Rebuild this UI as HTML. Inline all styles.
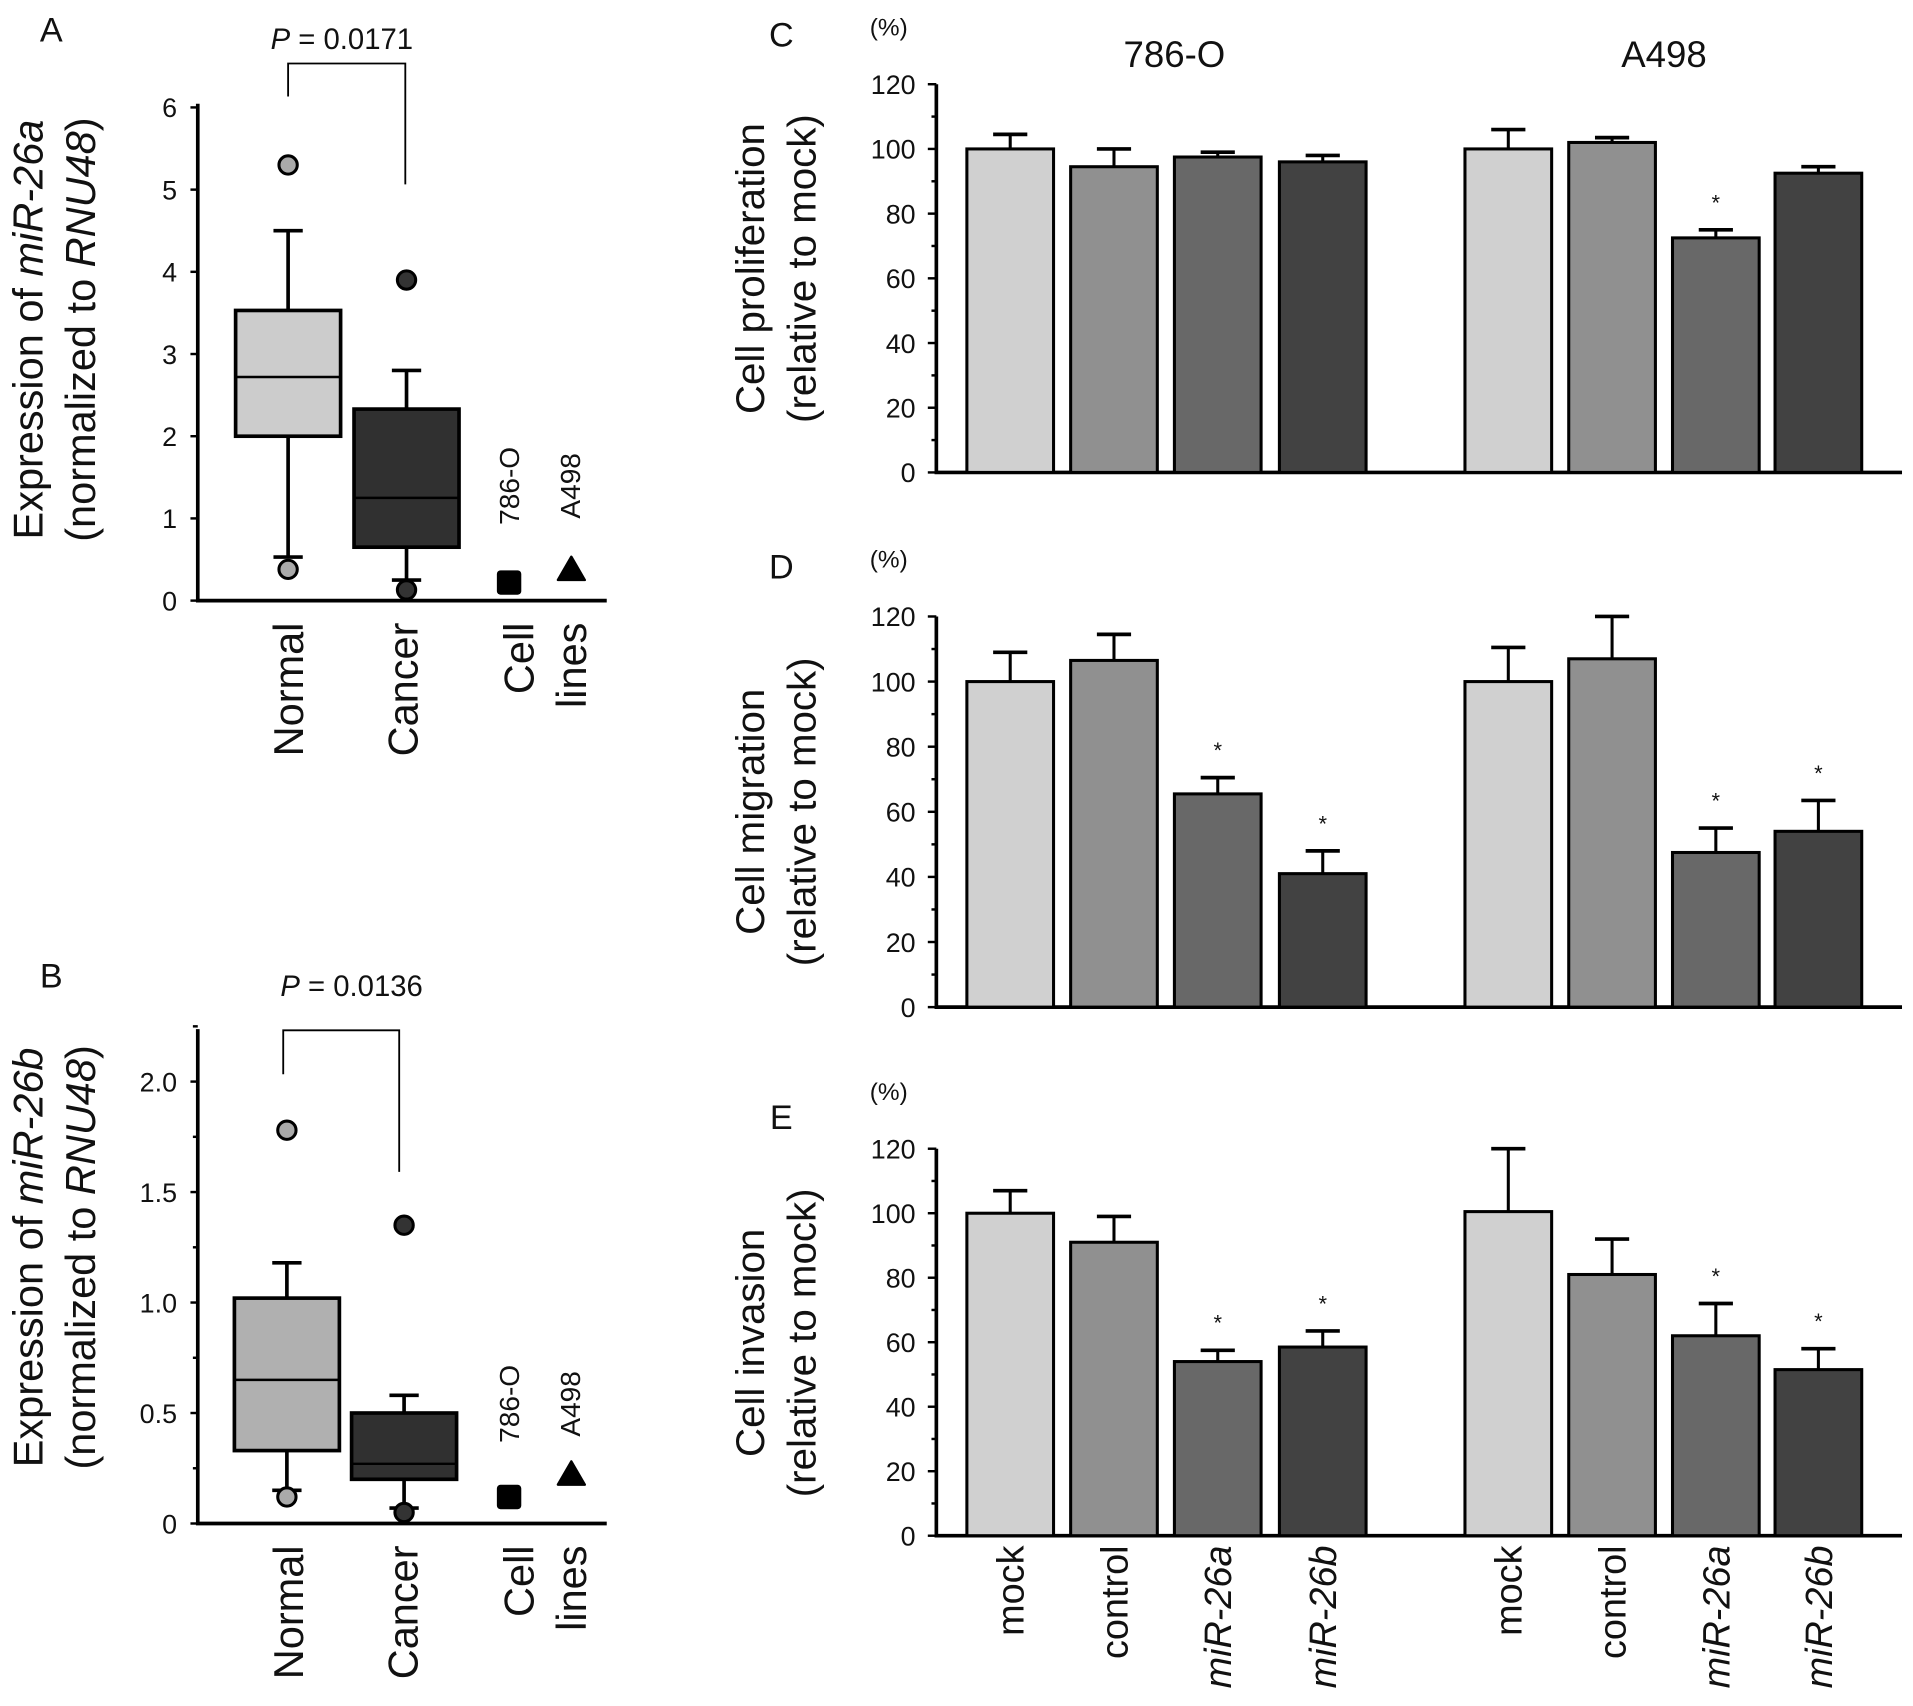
<!DOCTYPE html>
<html><head><meta charset="utf-8"><style>
html,body{margin:0;padding:0;background:#fff}
svg{display:block}
text{font-family:"Liberation Sans",Arial,sans-serif;fill:#111}
</style></head><body>
<svg id="fig" width="1913" height="1706" viewBox="0 0 1567 1397.5" preserveAspectRatio="none" xmlns="http://www.w3.org/2000/svg"></svg>
<script>
// ---- Box plot data ----
const boxCats = ["Normal","Cancer"];
const aNormal = [0.53, 2.0, 2.72, 3.53, 4.5];   // whiskerLo, Q1, median, Q3, whiskerHi
const aCancer = [0.25, 0.65, 1.25, 2.33, 2.8];
const aOutNormal = [5.3, 0.38];
const aOutCancer = [3.9, 0.13];
const aCell = [0.22, 0.37];
const aTicks = ["0","1","2","3","4","5","6"];
const bNormal = [0.15, 0.33, 0.65, 1.02, 1.18];
const bCancer = [0.07, 0.2, 0.27, 0.5, 0.58];
const bOutNormal = [1.78, 0.12];
const bOutCancer = [1.35, 0.05];
const bCell = [0.12, 0.22];
const bTicks = ["0","0.5","1.0","1.5","2.0"];
// ---- Bar chart data ----
const barCats = ["mock","control","miR-26a","miR-26b"];
const cellLines = ["786-O","A498"];
const cVals = [100,94.5,97.5,96, 100,102,72.5,92.5];
const cErr  = [104.5,100,99,98, 106,103.5,75,94.5];
const cSig  = [0,0,0,0, 0,0,1,0];
const dVals = [100,106.5,65.5,41, 100,107,47.5,54];
const dErr  = [109,114.5,70.5,48, 110.5,120,55,63.5];
const dSig  = [0,0,1,1, 0,0,1,1];
const eVals = [100,91,54,58.5, 100.5,81,62,51.5];
const eErr  = [107,99,57.5,63.5, 120,92,72,58];
const eSig  = [0,0,1,1, 0,0,1,1];
const barTicks = ["0","20","40","60","80","100","120"];

const svg=document.getElementById('fig');
const NS="http://www.w3.org/2000/svg";
function el(tag,attrs,parent){const e=document.createElementNS(NS,tag);for(const k in attrs)e.setAttribute(k,attrs[k]);(parent||svg).appendChild(e);return e;}
function txt(s,x,y,size,opts,parent){opts=opts||{};const t=el('text',{x:x,y:y,'font-size':size,'text-anchor':opts.anchor||'middle'},parent);if(opts.rot)t.setAttribute('transform','rotate('+opts.rot+' '+x+' '+y+')');if(opts.italic)t.setAttribute('font-style','italic');t.innerHTML=s;return t;}

function boxPanel(cfg){
  const g=el('g',{});
  
  
  const y=v=>cfg.y0-(v/cfg.max)*(cfg.y0-cfg.yTop);
  const ax=162;
  const axis=el('path',{d:`M${ax} ${cfg.axTop}V${cfg.y0}H497`,stroke:'#000','stroke-width':3,fill:'none'},g);
  
  
  cfg.ticks.forEach((t,i)=>{const v=i*cfg.step;el('line',{x1:ax-6,x2:ax,y1:y(v),y2:y(v),stroke:'#000','stroke-width':2},g);
    if(cfg.minor)el('line',{x1:ax-4,x2:ax,y1:y(v+cfg.step/2),y2:y(v+cfg.step/2),stroke:'#000','stroke-width':2},g);
    const tl=txt(t,ax-17,y(v)+8,22,{anchor:'end'},g);});
  const boxes=[[cfg.normal,cfg.nx,cfg.nFill,cfg.outN,'#aaaaaa'],[cfg.cancer,cfg.cx,'#303030',cfg.outC,'#333']];
  boxes.forEach((b,i)=>{const d=b[0],cx=b[1],hw=cfg.hw[i];
    el('line',{x1:cx,x2:cx,y1:y(d[0]),y2:y(d[4]),stroke:'#000','stroke-width':3},g);
    el('line',{x1:cx-12,x2:cx+12,y1:y(d[0]),y2:y(d[0]),stroke:'#000','stroke-width':3},g);
    el('line',{x1:cx-12,x2:cx+12,y1:y(d[4]),y2:y(d[4]),stroke:'#000','stroke-width':3},g);
    const r=el('rect',{x:cx-hw,y:y(d[3]),width:2*hw,height:y(d[1])-y(d[3]),fill:b[2],stroke:'#000','stroke-width':3},g);
    
    el('line',{x1:cx-hw,x2:cx+hw,y1:y(d[2]),y2:y(d[2]),stroke:'#000','stroke-width':2},g);
    b[3].forEach(o=>{const c=el('circle',{cx:cx,cy:y(o),r:7.5,fill:b[4],stroke:'#000','stroke-width':2.5},g);});
  });
  const sq=el('rect',{x:407,y:y(cfg.cell[0])-10,width:20,height:20,rx:3,fill:'#000'},g);
  
  const yt=y(cfg.cell[1]);
  const tri=el('path',{d:`M468 ${yt-11}L479 ${yt+8}L457 ${yt+8}Z`,fill:'#000',stroke:'#000','stroke-width':2,'stroke-linejoin':'round'},g);
  
  txt('786-O',425,cfg.lblY,23,{rot:-90},g);
  txt('A498',475,cfg.lblY,23,{rot:-90},g);
  const br=el('path',{d:`M${cfg.br[0]} ${cfg.br[1]}V${cfg.br[2]}H${cfg.br[3]}V${cfg.br[4]}`,stroke:'#000','stroke-width':1.5,fill:'none'},g);
  
  const p=txt('<tspan font-style="italic">P</tspan> = '+cfg.p,cfg.pX,cfg.pY,24,{},g);
  
  const pl=txt(cfg.letter,42,cfg.letterY,28,{},g);
  const t1=txt('Expression of <tspan font-style="italic">'+cfg.mir+'</tspan>',35,cfg.titleY,34,{rot:-90},g);
  
  txt('(normalized to <tspan font-style="italic">RNU48</tspan>)',78,cfg.titleY,34,{rot:-90},g);
  const lx=cfg.y0+18;
  [['Normal',248],['Cancer',342],['Cell',437],['lines',480]].forEach(l=>{const t=txt(l[0],l[1],lx,34,{rot:-90,anchor:'end'},g);});
}
boxPanel({name:'panel-a-mir26a-boxplot',y0:492,yTop:88,axTop:85,max:6,step:1,minor:false,ticks:aTicks,normal:aNormal,cancer:aCancer,outN:aOutNormal,outC:aOutCancer,cell:aCell,
  nx:236,cx:333,hw:[43,43],nFill:'#cccccc',lblY:398,br:[236,79,52,332,151],p:'0.0171',pX:280,pY:40,letter:'A',letterY:34,mir:'miR-26a',titleY:270});
boxPanel({name:'panel-b-mir26b-boxplot',y0:1248,yTop:886,axTop:843,max:2,step:0.5,minor:true,ticks:bTicks,normal:bNormal,cancer:bCancer,outN:bOutNormal,outC:bOutCancer,cell:bCell,
  nx:235,cx:331,hw:[43,43],nFill:'#b0b0b0',lblY:1150,br:[232,880,844,327,960],p:'0.0136',pX:288,pY:816,letter:'B',letterY:809,mir:'miR-26b',titleY:1030});

const fills=['#d0d0d0','#909090','#686868','#424242'];
const barX=[792,877,962,1048,1200,1285,1370,1454];
function barPanel(cfg){
  const g=el('g',{});
  
  
  const y=v=>cfg.y0-(v/120)*(cfg.y0-cfg.yTop);
  const ax=767;
  const axis=el('path',{d:`M${ax} ${cfg.yTop}V${cfg.y0}H1558`,stroke:'#000','stroke-width':3,fill:'none'},g);
  
  barTicks.forEach((t,i)=>{const v=i*20;el('line',{x1:ax-7,x2:ax,y1:y(v),y2:y(v),stroke:'#000','stroke-width':2},g);
    if(i<6)el('line',{x1:ax-4,x2:ax,y1:y(v+10),y2:y(v+10),stroke:'#000','stroke-width':2},g);
    const tl=txt(t,ax-17,y(v)+8,22,{anchor:'end'},g);});
  const w=71;
  cfg.vals.forEach((v,i)=>{const x=barX[i],cx=x+w/2;
    el('line',{x1:cx,x2:cx,y1:y(v),y2:y(cfg.err[i]),stroke:'#000','stroke-width':2.5},g);
    el('line',{x1:cx-14,x2:cx+14,y1:y(cfg.err[i]),y2:y(cfg.err[i]),stroke:'#000','stroke-width':3},g);
    const r=el('rect',{x:x,y:y(v),width:w,height:y(0)-y(v),fill:fills[i%4],stroke:'#000','stroke-width':2.5},g);
    
    
    if(cfg.sig[i]){const s=txt('*',cx,y(cfg.err[i])-16,18,{},g);}
  });
  const pl=txt(cfg.letter,640,cfg.letterY,28,{},g);
  txt('(%)',728,cfg.yTop-40,20,{},g);
  const t1=txt(cfg.title,626,cfg.titleY,33,{rot:-90},g);
  txt('(relative to mock)',668,cfg.titleY,33,{rot:-90},g);
  if(cfg.header){cellLines.forEach((c,i)=>{const h=txt(c,i?1363:962,55,30,{},g);});}
  if(cfg.xlabels){barCats.forEach((c,k)=>{[0,4].forEach(o=>{const cx=barX[k+o]+w/2+11;const it=k>=2;
    const t=txt(c,cx,cfg.y0+8,31,{rot:-90,anchor:'end',italic:it},g);});});}
}
barPanel({name:'panel-c-proliferation',y0:387,yTop:69,vals:cVals,err:cErr,sig:cSig,letter:'C',letterY:38,title:'Cell proliferation',titleY:220,header:true});
barPanel({name:'panel-d-migration',y0:825,yTop:505,vals:dVals,err:dErr,sig:dSig,letter:'D',letterY:474,title:'Cell migration',titleY:665});
barPanel({name:'panel-e-invasion',y0:1258,yTop:941,vals:eVals,err:eErr,sig:eSig,letter:'E',letterY:925,title:'Cell invasion',titleY:1100,xlabels:true});
</script>
</body></html>
